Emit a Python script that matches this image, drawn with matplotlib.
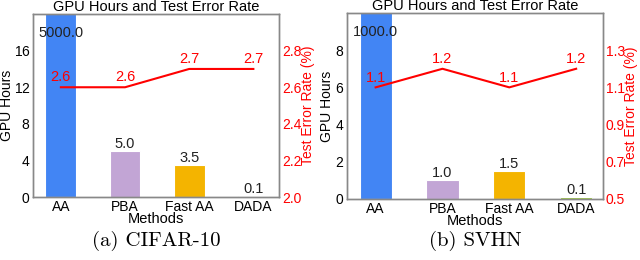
import matplotlib.pyplot as plt

methods = ['AA', 'PBA', 'Fast AA', 'DADA']
colors = ['#4285F4', '#C2A5D5', '#F4B400', '#9ACD32']

cifar_hours = [5000.0, 5.0, 3.5, 0.1]
cifar_err = [2.6, 2.6, 2.7, 2.7]
svhn_hours = [1000.0, 1.0, 1.5, 0.1]
svhn_err = [1.1, 1.2, 1.1, 1.2]

plt.rcParams['font.family'] = ['Liberation Sans', 'DejaVu Sans']
plt.rcParams['font.size'] = 10.5
plt.rcParams['font.serif'] = ['cmr10', 'DejaVu Serif']
plt.rcParams['axes.formatter.use_mathtext'] = True


def panel(rect, hours, err, ylim, yticks, elim, eticks, caption, lx, rx):
    ax = fig.add_axes(rect)
    x = range(len(methods))
    ax.bar(x, hours, width=0.48, color=colors, edgecolor='white', linewidth=0.8)
    ax.set_ylim(*ylim)
    ax.set_yticks(yticks)
    ax.set_xlim(-0.43, 3.4)
    ax.set_xticks(list(x))
    ax.set_xticklabels(methods)
    for i, h in enumerate(hours):
        y = min(h, ylim[1] * 0.86)
        ax.text(i, y, f'{h:.1f}', ha='center', va='bottom', color='#222222')
    ax.set_ylabel('GPU Hours', fontsize=10)
    ax.yaxis.set_label_coords(lx, 0.5)
    ax.set_xlabel('Methods', labelpad=-1)
    ax.set_title('GPU Hours and Test Error Rate', fontsize=10.5, pad=1)
    ax.tick_params(length=0, pad=2, labelsize=10)

    ax2 = ax.twinx()
    ax2.plot(list(x), err, color='red', linewidth=1.5)
    ax2.set_ylim(*elim)
    ax2.set_yticks(eticks)
    ax2.set_yticklabels([f'{t:.1f}' for t in eticks])
    for i, e in enumerate(err):
        ax2.annotate(f'{e:.1f}', (i, e), xytext=(0, 2), textcoords='offset points',
                     ha='center', va='bottom', color='red')
    ax2.set_ylabel('Test Error Rate (%)', color='red', fontsize=10)
    ax2.yaxis.set_label_coords(rx, 0.5)
    ax2.tick_params(length=0, pad=2, labelcolor='red', labelsize=10)
    for a in (ax, ax2):
        for s in a.spines.values():
            s.set_color('#888888')
            s.set_linewidth(1.0)
    fig.text(rect[0] + rect[2] / 2, 0.075, caption, ha='center', va='center',
             family='serif', fontsize=15)


fig = plt.figure(figsize=(6.4, 2.6), dpi=100)

panel([0.052, 0.242, 0.384, 0.704], cifar_hours, cifar_err, (0, 20), [0, 4, 8, 12, 16],
      (2.0, 3.0), [2.0, 2.2, 2.4, 2.6, 2.8], '(a) CIFAR-10', -0.077, 1.09)
panel([0.542, 0.235, 0.400, 0.715], svhn_hours, svhn_err, (0, 10), [0, 2, 4, 6, 8],
      (0.5, 1.5), [0.5, 0.7, 0.9, 1.1, 1.3], '(b) SVHN', -0.05, 1.082)

fig.savefig('out.png', dpi=100)
